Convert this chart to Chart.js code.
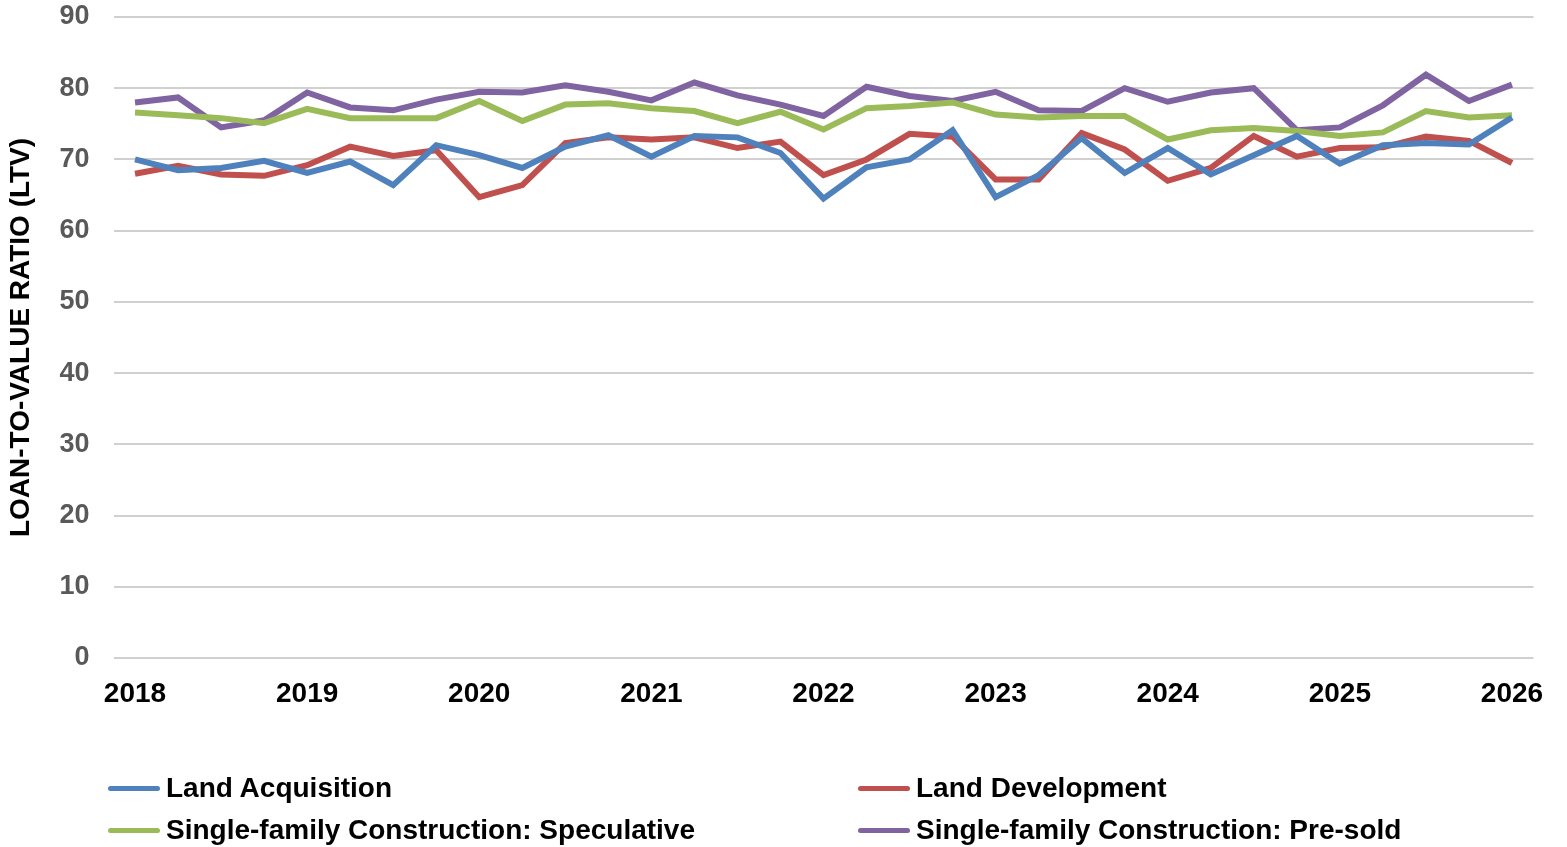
<!DOCTYPE html>
<html>
<head>
<meta charset="utf-8">
<title>Loan-to-value ratio</title>
<script src="https://cdn.jsdelivr.net/npm/chart.js@4.4.1/dist/chart.umd.min.js"></script>
<style>
    html, body {
        margin: 0;
        padding: 0;
        background: #FFF;
    }
    .chart-wrap {
        position: relative;
        width: 1567px;
        height: 847px;
        font-family: "Liberation Sans", Arial, sans-serif;
    }
    .chart-legend {
        position: absolute;
        left: 0;
        top: 0;
        width: 100%;
        height: 100%;
        pointer-events: none;
    }
    .chart-legend .item {
        position: absolute;
        display: flex;
        align-items: center;
        font-weight: bold;
        font-size: 28px;
        line-height: 32px;
        color: #000;
        white-space: nowrap;
        transform: translateY(-50%);
    }
    .chart-legend .swatch {
        width: 52px;
        height: 5px;
        border-radius: 3px;
        margin-right: 6px;
    }
</style>
</head>
<body>
<div class="chart-wrap">
    <canvas id="ltv" width="1567" height="730"></canvas>
    <div class="chart-legend" id="legend"></div>
</div>
<script>
// Quarterly observations, 2018 Q1 .. 2026 Q1
const years = ['2018', '2019', '2020', '2021', '2022', '2023', '2024', '2025', '2026'];
const quarters = ['Q1', 'Q2', 'Q3', 'Q4'];

const landAcquisition = [
    70.0, 68.5, 68.8, 69.8, 68.1, 69.7, 66.4, 72.0,
    70.6, 68.8, 71.8, 73.4, 70.4, 73.3, 73.1, 70.9,
    64.5, 68.9, 70.0, 74.1, 64.7, 67.8, 73.0, 68.1,
    71.6, 67.9, 70.6, 73.3, 69.4, 72.0, 72.3, 72.1,
    75.9
];
const landDevelopment = [
    68.0, 69.1, 67.9, 67.7, 69.2, 71.8, 70.5, 71.3,
    64.7, 66.4, 72.3, 73.1, 72.8, 73.1, 71.6, 72.5,
    67.8, 70.0, 73.6, 73.2, 67.2, 67.2, 73.7, 71.4,
    67.0, 68.8, 73.3, 70.4, 71.6, 71.7, 73.2, 72.6,
    69.5
];
const speculative = [
    76.6, 76.2, 75.8, 75.1, 77.1, 75.8, 75.8, 75.8,
    78.2, 75.4, 77.7, 77.9, 77.2, 76.8, 75.1, 76.7,
    74.2, 77.2, 77.5, 78.0, 76.3, 75.9, 76.1, 76.1,
    72.8, 74.1, 74.4, 74.0, 73.3, 73.8, 76.8, 75.9,
    76.2
];
const preSold = [
    78.0, 78.7, 74.5, 75.5, 79.4, 77.3, 76.9, 78.4,
    79.5, 79.4, 80.4, 79.5, 78.3, 80.8, 79.0, 77.7,
    76.1, 80.2, 78.9, 78.2, 79.5, 76.9, 76.8, 80.0,
    78.1, 79.4, 80.0, 74.1, 74.5, 77.6, 81.9, 78.2,
    80.5
];

const seriesNames = [
    'Land Acquisition',
    'Land Development',
    'Single-family Construction: Speculative',
    'Single-family Construction: Pre-sold'
];
const seriesColors = ['#4F81BD', '#C0504D', '#9BBB59', '#8064A2'];

// build category labels "2018 Q1" ...
const labels = [];
years.forEach(function (year, i) {
    quarters.forEach(function (q, j) {
        if (i === years.length - 1 && j > 0) return;
        labels.push(year + ' ' + q);
    });
});

const seriesValues = [landAcquisition, landDevelopment, speculative, preSold];

const datasets = seriesValues.map(function (values, i) {
    return {
        label: seriesNames[i],
        data: values,
        borderColor: seriesColors[i],
        backgroundColor: seriesColors[i],
        borderWidth: 6,
        pointRadius: 0,
        pointHoverRadius: 0,
        tension: 0,
        fill: false
    };
});

const canvasHeight = 730;
const plotLeft = 113.5;
const plotBottom = 658;
const fontFamily = '"Liberation Sans", Arial, sans-serif';

const chart = new Chart(document.getElementById('ltv'), {
    type: 'line',
    data: {
        labels: labels,
        datasets: datasets
    },
    options: {
        responsive: false,
        devicePixelRatio: 1,
        animation: false,
        layout: {
            padding: { top: 17, right: 33.5, left: 0, bottom: 0 }
        },
        plugins: {
            legend: { display: false },
            tooltip: { enabled: false }
        },
        scales: {
            x: {
                type: 'category',
                offset: true,
                grid: { display: false },
                border: { display: false },
                ticks: {
                    autoSkip: false,
                    maxRotation: 0,
                    minRotation: 0,
                    padding: 11,
                    color: '#000',
                    font: { family: fontFamily, size: 28, weight: 'bold' },
                    callback: function (value, index) {
                        return index % 4 === 0 ? years[index / 4] : '';
                    }
                },
                afterFit: function (scale) {
                    scale.height = canvasHeight - plotBottom;
                    scale.paddingLeft = 0;
                    scale.paddingRight = 0;
                }
            },
            y: {
                min: 0,
                max: 90,
                grid: {
                    color: '#D0D0D0',
                    lineWidth: 2,
                    drawTicks: false
                },
                border: { display: false },
                ticks: {
                    stepSize: 10,
                    padding: 24,
                    color: '#595959',
                    font: { family: fontFamily, size: 27, weight: 'bold' }
                },
                title: {
                    display: true,
                    text: 'LOAN-TO-VALUE RATIO (LTV)',
                    color: '#000',
                    padding: { top: 4, bottom: 4 },
                    font: { family: fontFamily, size: 28, weight: 'bold' }
                },
                afterFit: function (scale) {
                    scale.width = plotLeft;
                    scale.paddingTop = 0;
                    scale.paddingBottom = 0;
                }
            }
        }
    }
});

// HTML legend, two columns
const legendCols = [108, 858];
const legendRows = [788, 830];
const legendEl = document.getElementById('legend');
chart.data.datasets.forEach(function (ds, i) {
    const item = document.createElement('div');
    item.className = 'item';
    item.style.left = legendCols[i % 2] + 'px';
    item.style.top = legendRows[Math.floor(i / 2)] + 'px';
    const swatch = document.createElement('span');
    swatch.className = 'swatch';
    swatch.style.background = ds.borderColor;
    const text = document.createElement('span');
    text.textContent = ds.label;
    item.appendChild(swatch);
    item.appendChild(text);
    legendEl.appendChild(item);
});
</script>
</body>
</html>
